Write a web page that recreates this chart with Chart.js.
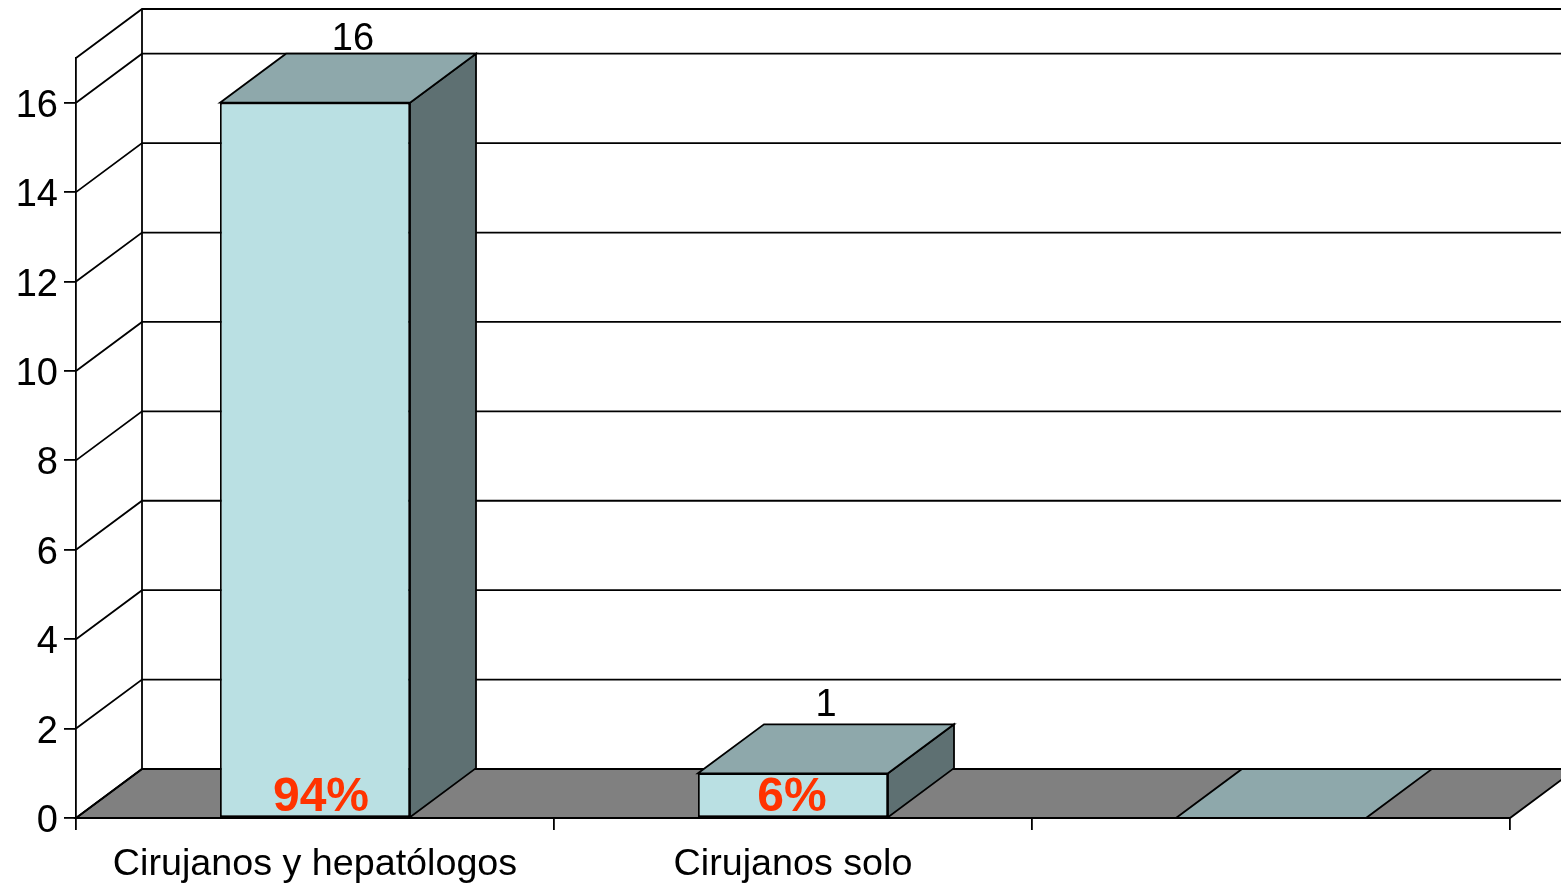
<!DOCTYPE html>
<html>
<head>
<meta charset="utf-8">
<title>Cirujanos</title>
<style>
	html, body { margin: 0; padding: 0; background: #fff; overflow: hidden; }
	canvas { display: block; }
</style>
<script src="https://cdn.jsdelivr.net/npm/chart.js@4/dist/chart.umd.min.js"></script>
</head>
<body>
<canvas id="barCanvas" width="1561" height="885"></canvas>
<script>
const categories = ['Cirujanos y hepatólogos', 'Cirujanos solo', ''];
const values = [16, 1, 0];
const valueLabels = ['16', '1', ''];
const percentLabels = ['94%', '6%', ''];
const axisMax = 17;
const tickStep = 2;

const FONT = '"Liberation Sans", Arial, sans-serif';
const DEPTH_X = 66;
const DEPTH_Y = 49;
const LINE = 1.8;

function poly(ctx, pts, fill) {
	ctx.beginPath();
	ctx.moveTo(pts[0][0], pts[0][1]);
	for (let i = 1; i < pts.length; i++) {
		ctx.lineTo(pts[i][0], pts[i][1]);
	}
	if (fill) {
		ctx.closePath();
		ctx.fillStyle = fill;
		ctx.fill();
	}
	ctx.stroke();
}

// the 3D look: walls and floor behind the bars, then the top and side of each bar
const box3d = {
	id: 'box3d',
	beforeDatasetsDraw(chart) {
		const ctx = chart.ctx;
		const xs = chart.scales.x;
		const ys = chart.scales.y;
		const right = chart.width;
		ctx.save();
		ctx.strokeStyle = '#000';
		ctx.lineWidth = LINE;

		const floorY = ys.getPixelForValue(0);
		const backX = xs.left + DEPTH_X;

		poly(ctx, [[xs.left, floorY], [backX, floorY - DEPTH_Y], [right + 10, floorY - DEPTH_Y],
			[xs.right + DEPTH_X, floorY - DEPTH_Y], [xs.right, floorY]], '#808080');

		ys.ticks.forEach(function (t) {
			const py = ys.getPixelForValue(t.value);
			poly(ctx, [[xs.left, py], [backX, py - DEPTH_Y], [right, py - DEPTH_Y]]);
		});
		const topY = ys.getPixelForValue(axisMax);
		poly(ctx, [[xs.left, topY], [backX, topY - DEPTH_Y], [right, topY - DEPTH_Y]]);
		poly(ctx, [[backX, topY - DEPTH_Y], [backX, floorY - DEPTH_Y]]);

		chart.getDatasetMeta(0).data.forEach(function (bar) {
			const l = bar.x - bar.width / 2;
			const r = bar.x + bar.width / 2;
			if (bar.base - bar.y > 0) {
				poly(ctx, [[r, bar.y], [r + DEPTH_X, bar.y - DEPTH_Y], [r + DEPTH_X, bar.base - DEPTH_Y], [r, bar.base]], '#5E7072');
			}
			poly(ctx, [[l, bar.y], [l + DEPTH_X, bar.y - DEPTH_Y], [r + DEPTH_X, bar.y - DEPTH_Y], [r, bar.y]], '#8EA8AB');
		});
		ctx.restore();
	},
	afterDatasetsDraw(chart) {
		const ctx = chart.ctx;
		const ys = chart.scales.y;
		const percentNudge = [6, -1, 0];
		ctx.save();
		ctx.textAlign = 'center';
		ctx.textBaseline = 'alphabetic';
		chart.getDatasetMeta(0).data.forEach(function (bar, i) {
			ctx.fillStyle = '#000';
			ctx.font = '38px ' + FONT;
			const lift = values[i] > 10 ? 3.5 : 8.5;
			ctx.fillText(valueLabels[i], bar.x + 38 - (values[i] > 10 ? 0 : 5), bar.y - DEPTH_Y - lift);
			ctx.fillStyle = '#FF3300';
			ctx.font = 'bold 48px ' + FONT;
			ctx.fillText(percentLabels[i], bar.x + percentNudge[i], bar.base - 6);
		});
		// y tick labels sit a little lower than the library would put them
		ctx.textAlign = 'right';
		ctx.fillStyle = '#000';
		ctx.font = '38px ' + FONT;
		ys.ticks.forEach(function (t) {
			ctx.fillText(t.label, ys.right - 18, ys.getPixelForValue(t.value) + 14);
		});
		ctx.restore();
	}
};

new Chart(document.getElementById('barCanvas'), {
	type: 'bar',
	data: {
		labels: categories,
		datasets: [{
			data: values,
			backgroundColor: '#BAE0E3',
			borderColor: '#000',
			borderWidth: LINE,
			borderSkipped: false,
			barPercentage: 0.3975,
			categoryPercentage: 1
		}]
	},
	options: {
		responsive: false,
		animation: false,
		layout: { padding: { top: 58, right: 51, left: 0, bottom: 0 } },
		plugins: { legend: { display: false }, tooltip: { enabled: false } },
		scales: {
			x: {
				afterFit: function (scale) { scale.height = 67; },
				border: { color: '#000', width: LINE },
				grid: { drawOnChartArea: false, color: '#000', lineWidth: LINE, tickLength: 12, offset: true },
				ticks: { color: '#000', padding: 12, maxRotation: 0, autoSkip: false, font: { family: FONT, size: 37.7 } }
			},
			y: {
				min: 0,
				max: axisMax,
				afterFit: function (scale) { scale.width = 76; },
				border: { color: '#000', width: LINE },
				grid: { drawOnChartArea: false, color: '#000', lineWidth: LINE, tickLength: 12 },
				ticks: { stepSize: tickStep, includeBounds: false, display: false }
			}
		}
	},
	plugins: [box3d]
});
</script>
</body>
</html>
